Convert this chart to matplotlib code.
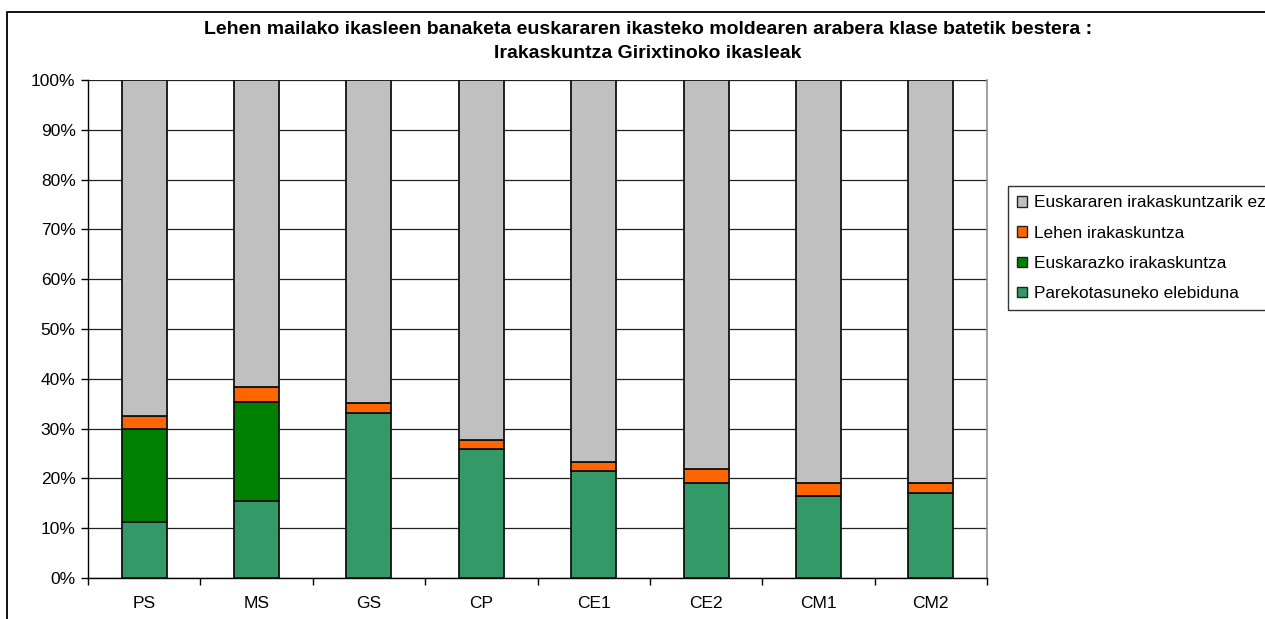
import matplotlib
matplotlib.use("Agg")
import matplotlib.pyplot as plt
from matplotlib.patches import Rectangle, Patch
from matplotlib.ticker import FixedLocator, PercentFormatter
import numpy as np

categories = ["PS", "MS", "GS", "CP", "CE1", "CE2", "CM1", "CM2"]
parekotasuneko = [11.3, 15.5, 33.2, 26.0, 21.5, 19.0, 16.5, 17.1]
euskarazko = [18.6, 19.9, 0.0, 0.0, 0.0, 0.0, 0.0, 0.0]
lehen = [2.6, 3.0, 1.9, 1.7, 1.8, 2.9, 2.6, 2.0]
euskararen_ez = [100 - a - b - c for a, b, c in zip(parekotasuneko, euskarazko, lehen)]

series = [
    ("Parekotasuneko elebiduna", parekotasuneko, "#339966"),
    ("Euskarazko irakaskuntza", euskarazko, "#008000"),
    ("Lehen irakaskuntza", lehen, "#FF6600"),
    ("Euskararen irakaskuntzarik ez", euskararen_ez, "#C0C0C0"),
]
title_lines = ["Lehen mailako ikasleen banaketa euskararen ikasteko moldearen arabera klase batetik bestera :",
               "Irakaskuntza Girixtinoko ikasleak"]

plt.rcParams['font.family'] = ['Liberation Sans', 'DejaVu Sans']

W, H = 1265, 619
fig = plt.figure(figsize=(W / 100, H / 100), dpi=100)

# outer chart border
fig.patches.append(Rectangle((7 / W, -0.1), 1.2, 1 - 12 / H + 0.1, transform=fig.transFigure,
                             fill=False, edgecolor="black", linewidth=1.3))

ax = fig.add_axes([88 / W, (H - 578) / H, (987 - 88) / W, (578 - 80) / H])
x = np.arange(len(categories))
bottom = np.zeros(len(categories))
for name, vals, col in series:
    vals = np.array(vals)
    ax.bar(x, vals, bottom=bottom, width=0.4, color=col, edgecolor="#111111",
           linewidth=1.3, zorder=3)
    bottom += vals

ax.set_xlim(-0.5, len(categories) - 0.5)
ax.set_ylim(0, 100)
ax.set_yticks(np.arange(0, 101, 10))
ax.yaxis.set_major_formatter(PercentFormatter(decimals=0))
ax.set_xticks(x)
ax.set_xticklabels(categories)
ax.xaxis.set_minor_locator(FixedLocator(np.arange(-0.5, len(categories), 1)))
ax.tick_params(axis="x", which="major", length=0, pad=13, labelsize=12.5)
ax.tick_params(axis="x", which="minor", length=5, width=1, direction="out", color="black")
ax.tick_params(axis="y", length=5, width=1, direction="out", labelsize=12.5, pad=4)
ax.grid(axis="y", color="#222222", linewidth=0.9, zorder=0)
ax.set_axisbelow(True)
for s in ["left", "bottom"]:
    ax.spines[s].set_color("black")
    ax.spines[s].set_linewidth(1)
ax.spines["top"].set_visible(False)
ax.spines["right"].set_color("#909090")
ax.spines["right"].set_linewidth(1.2)

fig.text(648 / W, 1 - 29 / H, title_lines[0], ha="center", va="center",
         fontsize=14, fontweight="bold")
fig.text(648 / W, 1 - 54 / H, title_lines[1], ha="center", va="center",
         fontsize=14, fontweight="bold")

handles = [Patch(facecolor=col, edgecolor="#222222", linewidth=1, label=name)
           for name, vals, col in reversed(series)]
leg = fig.legend(handles=handles, loc="upper left", bbox_to_anchor=(1008 / W, 1 - 186 / H),
                 bbox_transform=fig.transFigure, fontsize=12.4, frameon=True, fancybox=False,
                 edgecolor="black", borderaxespad=0, borderpad=0.55, labelspacing=0.88,
                 handlelength=0.55, handleheight=0.55, handletextpad=0.4)
leg.get_frame().set_linewidth(1)

fig.savefig("out.png", dpi=100)
